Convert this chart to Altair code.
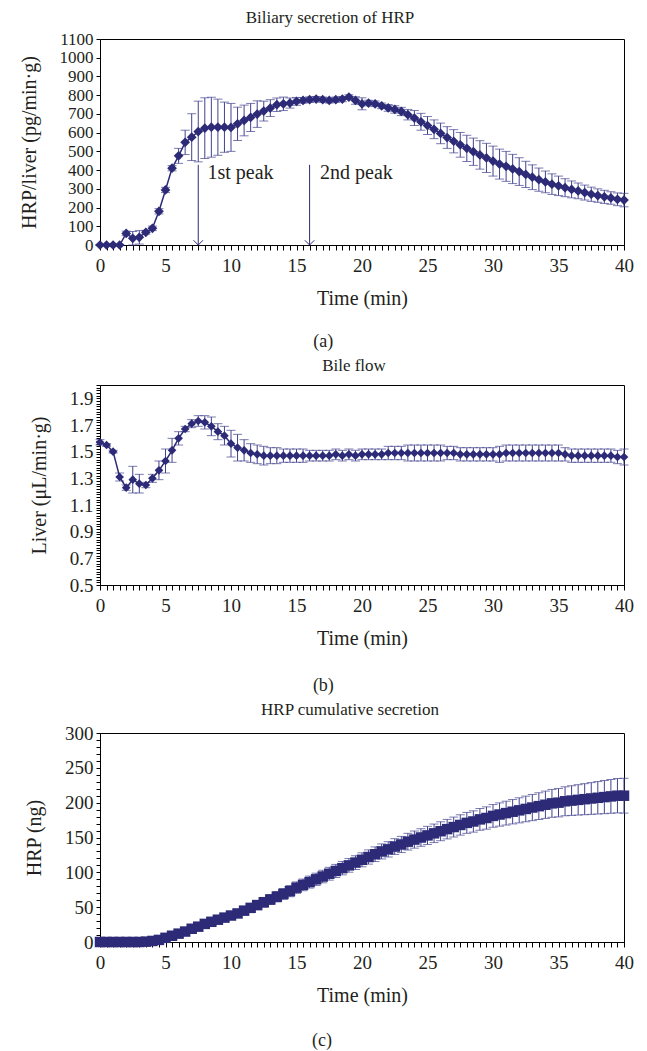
import altair as alt
import pandas as pd

# ---------------- data ----------------
TIME = [0.0, 0.5, 1.0, 1.5, 2.0, 2.5, 3.0, 3.5, 4.0, 4.5,
        5.0, 5.5, 6.0, 6.5, 7.0, 7.5, 8.0, 8.5, 9.0, 9.5,
        10.0, 10.5, 11.0, 11.5, 12.0, 12.5, 13.0, 13.5, 14.0, 14.5,
        15.0, 15.5, 16.0, 16.5, 17.0, 17.5, 18.0, 18.5, 19.0, 19.5,
        20.0, 20.5, 21.0, 21.5, 22.0, 22.5, 23.0, 23.5, 24.0, 24.5,
        25.0, 25.5, 26.0, 26.5, 27.0, 27.5, 28.0, 28.5, 29.0, 29.5,
        30.0, 30.5, 31.0, 31.5, 32.0, 32.5, 33.0, 33.5, 34.0, 34.5,
        35.0, 35.5, 36.0, 36.5, 37.0, 37.5, 38.0, 38.5, 39.0, 39.5,
        40.0]

HRP_RATE = [0, 0, 0, 0, 62, 36, 41, 68, 89, 180,
            294, 410, 476, 548, 576, 606, 624, 629, 629, 629,
            628, 647, 665, 681, 699, 715, 731, 749, 754, 758,
            767, 772, 776, 779, 776, 772, 776, 779, 790, 772,
            754, 758, 754, 743, 732, 724, 713, 696, 678, 658,
            638, 618, 596, 574, 554, 535, 516, 498, 481, 465,
            448, 432, 420, 406, 392, 377, 362, 349, 337, 325,
            316, 306, 297, 289, 280, 271, 264, 257, 251, 244,
            240]
HRP_RATE_SE = [3, 3, 3, 3, 12, 36, 36, 10, 12, 14,
               14, 14, 40, 65, 125, 162, 162, 160, 150, 134,
               128, 89, 82, 75, 71, 53, 45, 36, 36, 27,
               21, 15, 15, 14, 14, 14, 14, 14, 12, 20,
               32, 15, 15, 15, 18, 20, 22, 28, 40, 45,
               48, 50, 55, 58, 62, 66, 70, 73, 76, 78,
               80, 80, 80, 78, 74, 70, 66, 62, 58, 55,
               52, 48, 45, 42, 40, 38, 36, 35, 34, 34,
               36]

BILE_FLOW = [1.57, 1.55, 1.50, 1.31, 1.23, 1.29, 1.26, 1.25, 1.30, 1.36,
             1.43, 1.51, 1.60, 1.67, 1.71, 1.73, 1.72, 1.69, 1.65, 1.62,
             1.56, 1.53, 1.51, 1.49, 1.48, 1.47, 1.47, 1.47, 1.47, 1.47,
             1.47, 1.47, 1.47, 1.47, 1.47, 1.47, 1.48, 1.47, 1.48, 1.47,
             1.48, 1.48, 1.48, 1.48, 1.49, 1.49, 1.49, 1.49, 1.49, 1.49,
             1.49, 1.49, 1.49, 1.49, 1.49, 1.48, 1.48, 1.48, 1.48, 1.48,
             1.48, 1.48, 1.49, 1.49, 1.49, 1.49, 1.49, 1.49, 1.49, 1.49,
             1.49, 1.48, 1.47, 1.47, 1.47, 1.47, 1.47, 1.47, 1.47, 1.46,
             1.46]
BILE_FLOW_SE = [0.02, 0.01, 0.01, 0.03, 0.02, 0.10, 0.07, 0.02, 0.03, 0.07,
                0.09, 0.09, 0.05, 0.02, 0.03, 0.04, 0.05, 0.07, 0.06, 0.07,
                0.10, 0.10, 0.08, 0.07, 0.07, 0.07, 0.06, 0.06, 0.05, 0.05,
                0.05, 0.05, 0.04, 0.04, 0.04, 0.04, 0.04, 0.04, 0.04, 0.04,
                0.04, 0.04, 0.04, 0.04, 0.05, 0.05, 0.05, 0.06, 0.06, 0.06,
                0.06, 0.06, 0.06, 0.05, 0.05, 0.05, 0.05, 0.05, 0.05, 0.05,
                0.05, 0.06, 0.06, 0.06, 0.06, 0.06, 0.06, 0.06, 0.06, 0.06,
                0.06, 0.05, 0.05, 0.05, 0.05, 0.05, 0.05, 0.05, 0.05, 0.05,
                0.06]

HRP_CUM = [0, 0, 0, 0, 0, 0, 0, 0.5, 1.5, 3,
           6, 9, 12, 15, 19, 22, 26, 29, 32, 35,
           38, 41, 45, 49, 53, 57, 61, 65, 69, 73,
           78, 82, 86, 90, 94, 98, 102, 106, 110, 114,
           118, 122, 126, 130, 133, 137, 140, 144, 147, 150,
           153, 156, 159, 162, 165, 168, 171, 173, 176, 178,
           181, 183, 185, 187, 189, 191, 193, 195, 197, 199,
           200, 202, 203, 204, 205, 206, 207, 208, 209, 210,
           210]
HRP_CUM_SE = [0.3, 0.3, 0.3, 0.3, 0.3, 0.3, 0.3, 0.5, 0.8, 1.0,
              1.5, 2.0, 2.5, 3.0, 3.3, 3.6, 4.0, 4.3, 4.6, 5.0,
              5.3, 5.6, 6.0, 6.3, 6.6, 7.0, 7.2, 7.5, 7.8, 8.0,
              8.2, 8.4, 8.6, 8.8, 9.0, 9.2, 9.4, 9.6, 9.8, 9.9,
              10.0, 10.2, 10.5, 10.8, 11.0, 11.3, 11.6, 12.0, 12.3, 12.6,
              13.0, 13.3, 13.6, 14.0, 14.3, 14.6, 15.0, 15.3, 15.6, 16.0,
              16.3, 16.7, 17.1, 17.5, 18.0, 18.4, 18.8, 19.2, 19.6, 20.0,
              20.4, 20.8, 21.3, 21.8, 22.3, 22.8, 23.3, 23.8, 24.3, 24.7,
              25.0]

# peak annotations in panel (a), data units
PEAK_TIME = [7.5, 16.0]
PEAK_LABEL = ["1st peak", "2nd peak"]
PEAK_LABEL_TIME = [8.2, 16.8]
ARROW_TOP = [428, 428]
ARROW_BASE = [0, 0]
PEAK_LABEL_LEVEL = [383, 383]

# tick grids
X_TICKS = TIME
Y_TICKS_A = [0, 100, 200, 300, 400, 500, 600, 700, 800, 900, 1000, 1100]
Y_TICKS_B = [round(0.5 + 0.02 * i, 2) for i in range(76)]
Y_TICKS_C = list(range(0, 301, 10))

# ---------------- styling ----------------
NAVY = "#2d2b77"
ERR = "#41418f"
FONT = "Liberation Serif"
TEXT = "#231f20"
W = 524
LABEL_SIZE = 19
TITLE_SIZE = 20


def frame(values, se):
    return pd.DataFrame({
        "t": TIME,
        "v": values,
        "lo": [v - s for v, s in zip(values, se)],
        "hi": [v + s for v, s in zip(values, se)],
    })


def xenc(field):
    return alt.X(
        field,
        type="quantitative",
        scale=alt.Scale(domain=[0, 40], nice=False, zero=False),
        axis=alt.Axis(
            values=X_TICKS,
            labelExpr="datum.value % 5 === 0 ? format(datum.value, 'd') : ''",
            title="Time (min)",
            labelFlush=False,
            labelOverlap=False,
            tickSize=5,
            labelPadding=6,
            titlePadding=13,
            labelFont=FONT, labelFontSize=LABEL_SIZE,
            titleFont=FONT, titleFontSize=TITLE_SIZE,
            titleFontWeight="normal",
        ),
    )


def yenc(field, domain, ticks, title, expr=None, label_size=LABEL_SIZE):
    ax = dict(values=ticks, title=title, labelOverlap=False, tickSize=4,
              labelPadding=3, titlePadding=20, labelFlush=False,
              labelFont=FONT, labelFontSize=label_size,
              titleFont=FONT, titleFontSize=TITLE_SIZE,
              titleFontWeight="normal")
    if expr is not None:
        ax["labelExpr"] = expr
    else:
        ax["format"] = "d"
    return alt.Y(field, type="quantitative",
                 scale=alt.Scale(domain=domain, nice=False, zero=False),
                 axis=alt.Axis(**ax))


def panel(df, ytitle, domain, ticks, expr, shape, size, label_size=LABEL_SIZE):
    y = lambda f: yenc(f, domain, ticks, ytitle, expr, label_size)
    base = alt.Chart(df)
    bars = base.mark_rule(color=ERR, strokeWidth=1).encode(
        x=xenc("t"), y=y("lo"), y2="hi")
    cap_lo = base.mark_tick(color=ERR, orient="horizontal", size=9,
                            thickness=1).encode(x=xenc("t"), y=y("lo"))
    cap_hi = base.mark_tick(color=ERR, orient="horizontal", size=9,
                            thickness=1).encode(x=xenc("t"), y=y("hi"))
    line = base.mark_line(color=NAVY, strokeWidth=1.5).encode(
        x=xenc("t"), y=y("v"))
    pts = base.mark_point(shape=shape, filled=True, size=size, color=NAVY,
                          opacity=1).encode(x=xenc("t"), y=y("v"))
    return [bars, cap_lo, cap_hi, line, pts], y


df_a = frame(HRP_RATE, HRP_RATE_SE)
df_b = frame(BILE_FLOW, BILE_FLOW_SE)
df_c = frame(HRP_CUM, HRP_CUM_SE)

layers_a, ya = panel(df_a, "HRP/liver (pg/min·g)", [0, 1100], Y_TICKS_A,
                     None, "diamond", 95, label_size=17)

arrows = pd.DataFrame({"t": PEAK_TIME, "top": ARROW_TOP, "base": ARROW_BASE,
                       "label": PEAK_LABEL, "lt": PEAK_LABEL_TIME,
                       "lv": PEAK_LABEL_LEVEL})
arrow_shaft = alt.Chart(arrows).mark_rule(color=NAVY, strokeWidth=1).encode(
    x=xenc("t"), y=ya("top"), y2="base")
arrow_head = alt.Chart(arrows).mark_point(
    shape="M-1,-1L0,0L1,-1", filled=False, size=90, color=NAVY,
    strokeWidth=1, opacity=1).encode(x=xenc("t"), y=ya("base"))
arrow_text = alt.Chart(arrows).mark_text(
    align="left", baseline="middle", font=FONT, fontSize=20, color=TEXT
).encode(x=xenc("lt"), y=ya("lv"), text="label:N")


def titled(text, offset, dx):
    return alt.TitleParams(text, font=FONT, fontSize=17, fontWeight="normal",
                           color=TEXT, anchor="middle", offset=offset, dx=dx)


def letter(text, offset, dx):
    return alt.TitleParams(text, font=FONT, fontSize=18, fontWeight="normal",
                           color=TEXT, anchor="middle", orient="bottom",
                           offset=offset, dx=dx)


chart_a = alt.layer(*layers_a, arrow_shaft, arrow_head, arrow_text).properties(
    width=W, height=206, title=titled("Biliary secretion of HRP", 3, -32))

layers_b, _ = panel(df_b, "Liver (μL/min·g)", [0.5, 2.0], Y_TICKS_B,
                    "round(datum.value * 100) % 20 === 10 ? format(datum.value, '.1f') : ''",
                    "diamond", 75)
chart_b = alt.layer(*layers_b).properties(
    width=W, height=200, title=titled("Bile flow", 1, -8))

layers_c, _ = panel(df_c, "HRP (ng)", [0, 300], Y_TICKS_C,
                    "datum.value % 50 === 0 ? format(datum.value, 'd') : ''",
                    "square", 110)
chart_c = alt.layer(*layers_c).properties(
    width=W, height=209, title=titled("HRP cumulative secretion", 5, -12))

panel_a = alt.vconcat(chart_a, title=letter("(a)", 24, -3))
panel_b = alt.vconcat(chart_b, title=letter("(b)", 28, -8))
panel_c = alt.vconcat(chart_c, title=letter("(c)", 26, -7))

chart = alt.vconcat(panel_a, panel_b, panel_c, spacing=5).properties(
    padding={"top": 0, "left": 10, "right": 2, "bottom": 0}
).configure_view(
    stroke="black", strokeWidth=1
).configure_axis(
    domainColor="black", tickColor="black", labelColor=TEXT, titleColor=TEXT,
    labelFont=FONT, titleFont=FONT, labelFontSize=LABEL_SIZE,
    titleFontSize=TITLE_SIZE, titleFontWeight="normal", grid=False
)

chart.save("out.html", embed_options={"renderer": "svg", "actions": False})
